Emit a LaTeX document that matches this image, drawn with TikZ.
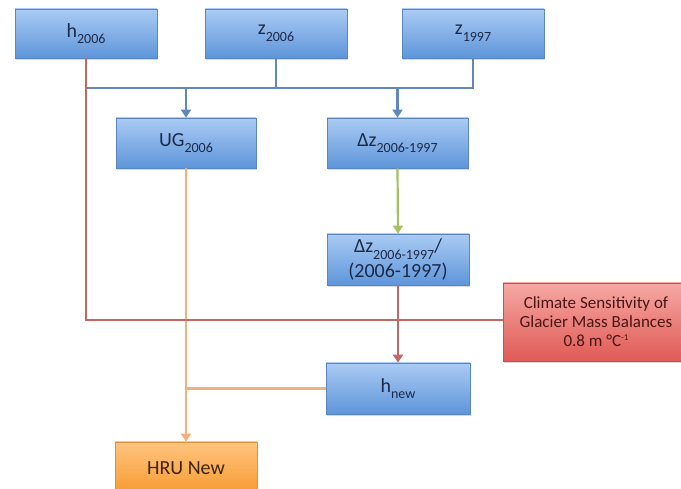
\documentclass[tikz,border=0pt]{standalone}
\usepackage{fontspec}
\setmainfont{Carlito}
\usetikzlibrary{arrows.meta,shadows}
\definecolor{bluetop}{HTML}{AACBF4}
\definecolor{bluebot}{HTML}{5E95DA}
\definecolor{bluebd}{HTML}{5A87C2}
\definecolor{bluetxt}{HTML}{1C2A48}
\definecolor{redtop}{HTML}{F6A8A4}
\definecolor{redbot}{HTML}{DF5A55}
\definecolor{redbd}{HTML}{C4524E}
\definecolor{redtxt}{HTML}{4A1614}
\definecolor{ortop}{HTML}{FFC47F}
\definecolor{orbot}{HTML}{F79A30}
\definecolor{orbd}{HTML}{E0923A}
\definecolor{ortxt}{HTML}{3E240C}
\definecolor{cblue}{HTML}{6088BD}
\definecolor{cred}{HTML}{C46863}
\definecolor{cgreen}{HTML}{A6C064}
\definecolor{corange}{HTML}{F5B07A}
\newcommand\lowsub[1]{\raisebox{-0.33em}{\fontsize{14}{14}\selectfont #1}}
\newcommand\highsup[1]{\raisebox{0.4em}{\fontsize{9}{9}\selectfont #1}}
\tikzset{
  boxbase/.style={line width=0.8pt, inner sep=0pt, align=center,
    minimum width=142pt, minimum height=50pt,
    drop shadow={opacity=0.3, shadow xshift=1pt, shadow yshift=-2pt}},
  bluebox/.style={boxbase, draw=bluebd, top color=bluetop, bottom color=bluebot,
    text=bluetxt, font=\fontsize{20}{24}\selectfont},
  redbox/.style={boxbase, draw=redbd, top color=redtop, bottom color=redbot,
    text=redtxt, font=\fontsize{17}{18.5}\selectfont},
  orbox/.style={boxbase, draw=orbd, top color=ortop, bottom color=orbot,
    text=ortxt, font=\fontsize{20}{24}\selectfont},
  conn/.style={line width=2.2pt},
  tip/.style={-{Triangle[length=8pt,width=10pt]}}
}
\begin{document}
\begin{tikzpicture}[x=1pt,y=1pt]
\useasboundingbox (0,0) rectangle (681,488);
\clip (0,0) rectangle (681,488);
\node[bluebox, minimum height=49pt] (h2006) at (86,454.5) {h\lowsub{2006}};
\node[bluebox, minimum height=49pt] (z2006) at (276,454.5) {z\lowsub{2006}};
\node[bluebox, minimum height=49pt] (z1997) at (473,454.5) {z\lowsub{1997}};
\node[bluebox, minimum width=140pt] (ug) at (186,345) {UG\lowsub{2006}};
\node[bluebox, minimum width=141pt] (dz) at (397.5,345) {Δz\lowsub{2006-1997}};
\node[bluebox, minimum height=51pt] (dzr) at (398,228.5) {Δz\lowsub{2006-1997}/\\[1pt](2006-1997)};
\node[redbox, minimum width=186pt, minimum height=78pt] (clim) at (596,166) {Climate Sensitivity of\\Glacier Mass Balances\\[1pt]0.8 m °C\highsup{-1}};
\node[bluebox, minimum width=144pt, minimum height=51pt] (hnew) at (398,99.5) {h\lowsub{new}};
\node[orbox, minimum height=52pt] (hru) at (186,20) {HRU New};
\coordinate (bus) at (0,400);
% blue connectors
\draw[conn, cblue] (z2006.south) -- (z2006.south |- bus);
\draw[conn, cblue] (z1997.south) -- (z1997.south |- bus) -- (h2006.south |- bus);
\draw[conn, cblue, tip] (ug.north |- bus) -- (ug.north);
\draw[conn, cblue, tip] (dz.north |- bus) -- (dz.north);
% green
\draw[conn, cgreen, tip] (dz.south) -- (dzr.north);
% orange
\draw[conn, corange, tip] (ug.south) -- (hru.north);
\draw[conn, corange] (hnew.west) -- (ug.south |- hnew.west);
% red
\draw[conn, cred] (h2006.south) -- (h2006.south |- 0,168) -- (clim.west |- 0,168);
\draw[conn, cred, tip] (dzr.south) -- (hnew.north);
\end{tikzpicture}
\end{document}
